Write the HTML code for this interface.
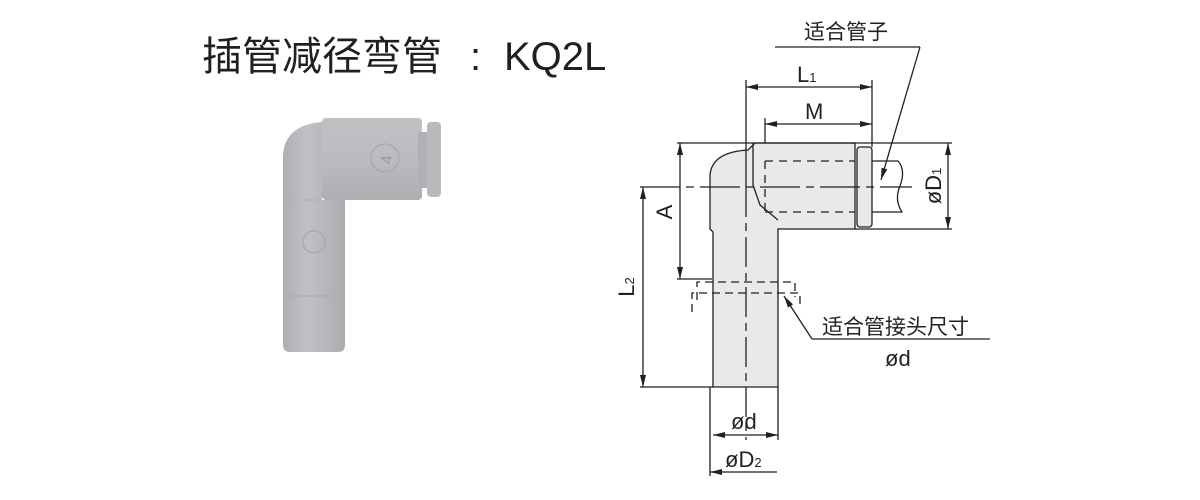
<!DOCTYPE html>
<html><head><meta charset="utf-8"><style>
html,body{margin:0;padding:0;background:#fff;width:1200px;height:500px;overflow:hidden}
svg{display:block}
text{font-family:"Liberation Sans","Noto Sans CJK SC",sans-serif;fill:#231f20}
</style></head><body>
<svg width="1200" height="500" viewBox="0 0 1200 500" xmlns="http://www.w3.org/2000/svg">
<defs>
<marker id="ar" viewBox="0 0 12 6" refX="12" refY="3" markerWidth="12" markerHeight="6" orient="auto-start-reverse" markerUnits="userSpaceOnUse"><path d="M0,0L12,3L0,6z" fill="#231f20"/></marker>
<linearGradient id="g1" x1="0" x2="1"><stop offset="0" stop-color="#aeafb2"/><stop offset=".4" stop-color="#c0c1c4"/><stop offset="1" stop-color="#abacb0"/></linearGradient>
<linearGradient id="g2" x1="0" y1="0" x2="0" y2="1"><stop offset="0" stop-color="#c0c1c4"/><stop offset=".5" stop-color="#bbbcbf"/><stop offset="1" stop-color="#adaeb2"/></linearGradient>
</defs>
<text x="202" y="70" font-size="40">插管减径弯管</text>
<text x="470" y="70" font-size="40">:</text>
<text x="504" y="70" font-size="40">KQ2L</text>

<!-- photo -->
<path d="M283,155 Q285,125 322,122 L322,200 L345,200 L345,345 Q345,352 338,352 L290,352 Q283,352 283,345 Z" fill="url(#g1)"/>
<rect x="322" y="118" width="100" height="82" rx="4" fill="url(#g2)"/>
<rect x="418" y="132" width="12" height="56" fill="#b0b1b4"/>
<rect x="427" y="122" width="14" height="75" rx="4" fill="#b9babd"/>
<circle cx="385" cy="158" r="14" fill="none" stroke="#a2a3a7"/>
<text x="379" y="165" font-size="16" transform="rotate(-90 385 158)" style="fill:#9a9b9f">4</text>
<circle cx="314" cy="242" r="11" fill="none" stroke="#a2a3a7"/>
<line x1="283" y1="296" x2="345" y2="296" stroke="#a8a9ad"/>
<line x1="283" y1="200" x2="322" y2="200" stroke="#b0b1b4"/>

<!-- drawing -->
<g stroke="#231f20" stroke-width="1.3" fill="none">
<path d="M713,387 L713,232 L710,229 L710,175 Q712,152 748,150 L755,143 L855,143 L855,229 L778,229 L778,387 Z" fill="#e9e9ea"/>
<path d="M753,143 L753,185 L760,205 L778,220"/>
<rect x="857" y="147" width="15" height="80" rx="3" fill="#e9e9ea"/>
<path d="M872,161 L898,161 Q906,170 900,186 Q894,200 902,212 L872,212"/>
<line x1="677" y1="143" x2="952" y2="143"/>
<line x1="855" y1="229" x2="952" y2="229"/>
<line x1="746" y1="80" x2="746" y2="187"/>
<line x1="872" y1="80" x2="872" y2="147"/>
<line x1="765" y1="118" x2="765" y2="143"/>
<line x1="640" y1="187" x2="912" y2="187" stroke-dasharray="40,6,8,6"/>
<line x1="746" y1="187" x2="746" y2="440" stroke-dasharray="30,6,8,6"/>
<path d="M765,161 L855,161 M765,212 L855,212 M765,161 L765,212" stroke-dasharray="8,6"/>
<path d="M697,300 L697,282 L795,282 L795,297 M692,312 L692,293 L800,293 L800,305" stroke-dasharray="8,5"/>
<line x1="746" y1="87" x2="872" y2="87" marker-start="url(#ar)" marker-end="url(#ar)"/>
<line x1="765" y1="124" x2="872" y2="124" marker-start="url(#ar)" marker-end="url(#ar)"/>
<line x1="680" y1="143" x2="680" y2="279" marker-start="url(#ar)" marker-end="url(#ar)"/>
<line x1="677" y1="279" x2="712" y2="279"/>
<line x1="643" y1="187" x2="643" y2="387" marker-start="url(#ar)" marker-end="url(#ar)"/>
<line x1="640" y1="387" x2="713" y2="387"/>
<line x1="948" y1="143" x2="948" y2="229" marker-start="url(#ar)" marker-end="url(#ar)"/>
<line x1="710" y1="387" x2="710" y2="476"/>
<line x1="778" y1="387" x2="778" y2="440"/>
<line x1="713" y1="435" x2="778" y2="435" marker-start="url(#ar)" marker-end="url(#ar)"/>
<line x1="777" y1="472" x2="710" y2="472" marker-end="url(#ar)"/>
<line x1="812" y1="339" x2="784" y2="296" marker-end="url(#ar)"/>
<line x1="812" y1="339" x2="990" y2="339"/>
<line x1="775" y1="47" x2="920" y2="47"/>
<line x1="920" y1="47" x2="881" y2="180" marker-end="url(#ar)"/>
</g>
<text x="804" y="39" font-size="21">适合管子</text>
<text x="797" y="82" font-size="22">L<tspan font-size="13">1</tspan></text>
<text x="805" y="119" font-size="22">M</text>
<text x="672" y="212" font-size="22" transform="rotate(-90 672 212)" text-anchor="middle">A</text>
<text x="634" y="287" font-size="22" transform="rotate(-90 634 287)" text-anchor="middle">L<tspan font-size="13">2</tspan></text>
<text x="941" y="186" font-size="22" transform="rotate(-90 941 186)" text-anchor="middle">øD<tspan font-size="13">1</tspan></text>
<text x="822" y="334" font-size="21">适合管接头尺寸</text>
<text x="885" y="366" font-size="22">ød</text>
<text x="731" y="429" font-size="22">ød</text>
<text x="725" y="467" font-size="22">øD<tspan font-size="13">2</tspan></text>
</svg>
</body></html>
